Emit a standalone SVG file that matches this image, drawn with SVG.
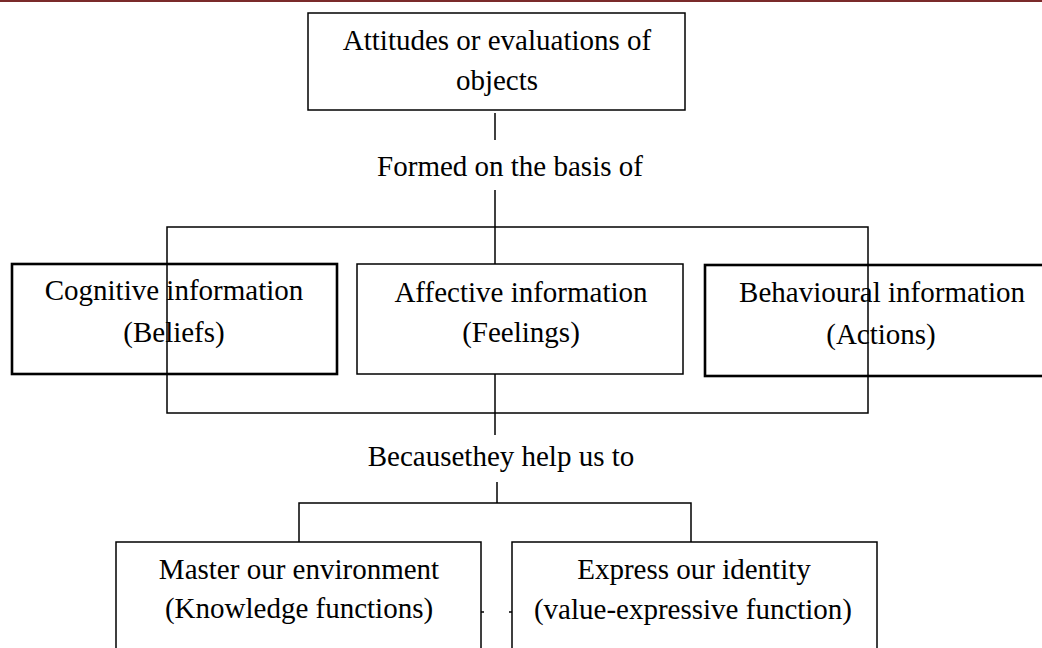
<svg xmlns="http://www.w3.org/2000/svg" width="1042" height="648" viewBox="0 0 1042 648">
<style>
text{font-family:"Liberation Serif","Times New Roman",serif;font-size:29px;fill:#000;text-anchor:middle}
.box{fill:none;stroke:#000;stroke-width:1.5}
.thick{fill:none;stroke:#000;stroke-width:2.6}
.ln{fill:none;stroke:#000;stroke-width:1.5}
</style>
<rect x="0" y="0" width="1042" height="2" fill="#7a2a2a"/>
<g id="connectors">
<line class="ln" x1="495" y1="113" x2="495" y2="140"/>
<line class="ln" x1="495" y1="190" x2="495" y2="264"/>
<rect class="box" x="167" y="227" width="701" height="186"/>
<line class="ln" x1="495" y1="374" x2="495" y2="435"/>
<line class="ln" x1="497" y1="482" x2="497" y2="503"/>
<polyline class="ln" points="299,542 299,503 691,503 691,542"/>
<line class="ln" x1="481" y1="612" x2="484" y2="612"/>
<line class="ln" x1="509" y1="612" x2="512" y2="612"/>
</g>
<g id="n-attitudes">
<rect class="box" x="308" y="13" width="377" height="97"/>
<text x="497" y="50">Attitudes or evaluations of</text>
<text x="497" y="90">objects</text>
</g>
<g id="l-formed">
<text x="510" y="176">Formed on the basis of</text>
</g>
<g id="n-cognitive">
<rect class="thick" x="12" y="264" width="325" height="110"/>
<text x="174" y="300">Cognitive information</text>
<text x="174" y="342">(Beliefs)</text>
</g>
<g id="n-affective">
<rect class="box" x="357" y="264" width="326" height="110"/>
<text x="521" y="302">Affective information</text>
<text x="521" y="342">(Feelings)</text>
</g>
<g id="n-behavioural">
<rect class="thick" x="705" y="265" width="360" height="111"/>
<text x="882" y="302">Behavioural information</text>
<text x="881" y="344">(Actions)</text>
</g>
<g id="l-because">
<text x="501" y="466">Becausethey help us to</text>
</g>
<g id="n-master">
<rect class="box" x="116" y="542" width="365" height="120"/>
<text x="299" y="579">Master our environment</text>
<text x="299" y="618">(Knowledge functions)</text>
</g>
<g id="n-express">
<rect class="box" x="512" y="542" width="365" height="120"/>
<text x="694" y="579">Express our identity</text>
<text x="693" y="619">(value-expressive function)</text>
</g>
</svg>
